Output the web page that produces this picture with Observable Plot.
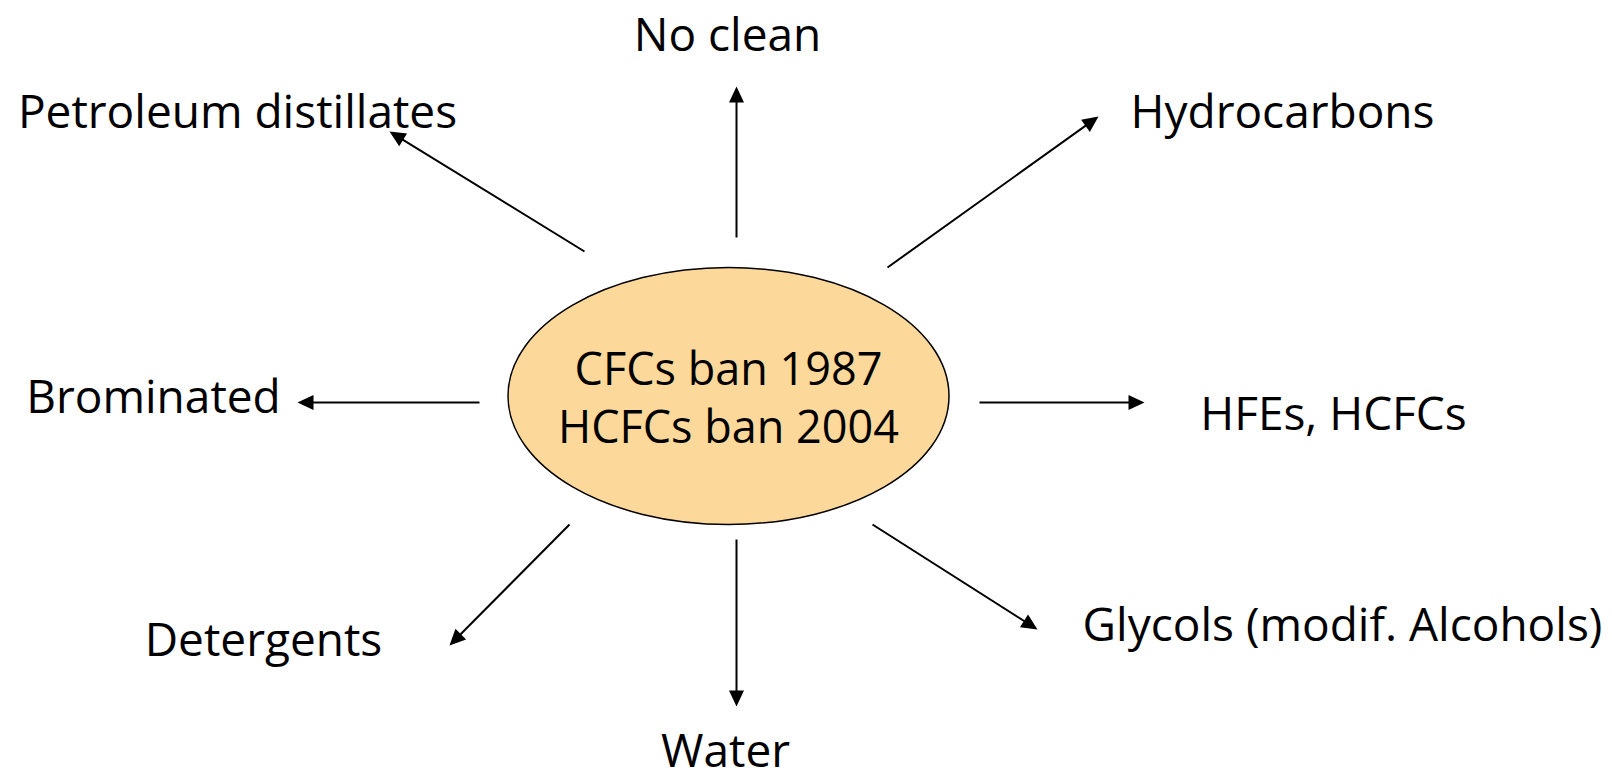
<!DOCTYPE html>
<html>
<head>
<meta charset="utf-8">
<script src="https://cdn.jsdelivr.net/npm/d3@7"></script>
<script src="https://cdn.jsdelivr.net/npm/@observablehq/plot@0.6"></script>
<style>
  html, body { margin: 0; padding: 0; background: #ffffff; overflow: hidden; }
  #chart svg { display: block; }
</style>
</head>
<body>
<div id="chart"></div>
<script>
// ---- Diagram data (layout units of the diagram space) ----
const centreLines = ["CFCs ban 1987", "HCFCs ban 2004"];
const centreLineY = [384, 442];
const centreX = 728;
const centreY = 395.5;

const targets = [
  "Petroleum distillates", "No clean", "Hydrocarbons", "Brominated",
  "HFEs, HCFCs", "Detergents", "Glycols (modif. Alcohols)", "Water"
];
// arrow start and tip, per target
const fromX = [584, 736, 887, 479, 979, 569, 872, 736];
const fromY = [251, 237, 267, 402, 402, 524, 524, 539];
const toX   = [389, 736, 1098, 297, 1144, 449, 1037, 736];
const toY   = [131, 86, 116, 402, 402, 645, 629, 706];
// label anchor (centre x, baseline y)
const labelX = [237, 727, 1282, 153, 1333, 263, 1342, 725];
const labelY = [127, 50, 127, 412, 429, 655, 640, 766];

// ---- Build tables ----
const HEAD = 16;
const spokes = targets.map((t, i) => {
  const dx = toX[i] - fromX[i], dy = toY[i] - fromY[i];
  const len = Math.hypot(dx, dy);
  const ux = dx / len, uy = dy / len;
  return {
    target: t,
    x1: fromX[i], y1: fromY[i],
    x2: toX[i], y2: toY[i],
    xs: toX[i] - ux * (HEAD - 2), ys: toY[i] - uy * (HEAD - 2),
    angle: Math.atan2(dx, -dy) * 180 / Math.PI,
    lx: labelX[i], ly: labelY[i]
  };
});
const centre = centreLines.map((t, i) => ({text: t, x: centreX, y: centreLineY[i]}));

// filled arrow head, tip at origin pointing up
const headSymbol = {
  draw(ctx) {
    ctx.moveTo(0, 0);
    ctx.lineTo(7.5, HEAD);
    ctx.lineTo(-7.5, HEAD);
    ctx.closePath();
  }
};
// ellipse drawn with bezier arcs, horizontal radius from the dot's r
const ASPECT = 128.5 / 220.5;
const ellipseSymbol = {
  draw(ctx, size) {
    const rx = Math.sqrt(size / Math.PI), ry = rx * ASPECT, k = 0.5522847;
    ctx.moveTo(rx, 0);
    ctx.bezierCurveTo(rx, ry * k, rx * k, ry, 0, ry);
    ctx.bezierCurveTo(-rx * k, ry, -rx, ry * k, -rx, 0);
    ctx.bezierCurveTo(-rx, -ry * k, -rx * k, -ry, 0, -ry);
    ctx.bezierCurveTo(rx * k, -ry, rx, -ry * k, rx, 0);
    ctx.closePath();
  }
};

const chart = Plot.plot({
  width: 1612,
  height: 778,
  margin: 0,
  x: {domain: [0, 1612], range: [0, 1612], axis: null},
  y: {domain: [0, 778], range: [0, 778], axis: null},
  style: {fontFamily: "'Open Sans', sans-serif", background: "#ffffff", color: "#000000"},
  marks: [
    Plot.dot([{x: centreX, y: centreY}], {
      x: "x", y: "y", r: 220.5, symbol: ellipseSymbol,
      fill: "#FDD89B", stroke: "#000000", strokeWidth: 1.5
    }),
    Plot.text(centre, {
      x: "x", y: "y", text: "text", fontSize: 45, lineAnchor: "bottom",
      textAnchor: "middle", fill: "#000000"
    }),
    Plot.link(spokes, {
      x1: "x1", y1: "y1", x2: "xs", y2: "ys",
      stroke: "#000000", strokeWidth: 2
    }),
    Plot.dot(spokes, {
      x: "x2", y: "y2", rotate: "angle", symbol: headSymbol, r: 5,
      fill: "#000000", stroke: "none"
    }),
    Plot.text(spokes, {
      x: "lx", y: "ly", text: "target", fontSize: 46, lineAnchor: "bottom",
      textAnchor: "middle", fill: "#000000"
    })
  ]
});
document.getElementById("chart").appendChild(chart);
</script>
</body>
</html>
